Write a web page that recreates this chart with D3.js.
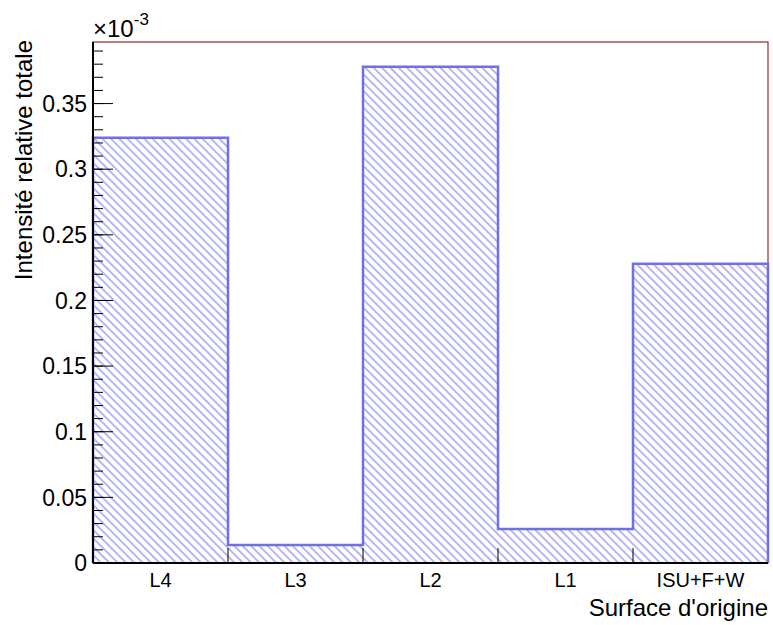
<!DOCTYPE html>
<html><head><meta charset="utf-8">
<script src="https://cdn.jsdelivr.net/npm/d3@7"></script>
<style>body{margin:0;background:#fff}svg{display:block}text{font-family:"Liberation Sans",Arial,sans-serif}</style>
</head><body>
<script>
const categories = ["L4","L3","L2","L1","ISU+F+W"];
const values = [0.324, 0.0137, 0.378, 0.0259, 0.228]; // ×10^-3
const yTicks = [0,0.05,0.1,0.15,0.2,0.25,0.3,0.35];
const yMax = 0.3969;

const W=773,H=625;
const m={l:93,r:5,t:42,b:62};
const svg=d3.select("body").append("svg").attr("width",W).attr("height",H);
const x=d3.scaleBand().domain(categories).range([m.l,W-m.r]).padding(0);
const y=d3.scaleLinear().domain([0,yMax]).range([H-m.b,m.t]);

const defs=svg.append("defs");
const pat=defs.append("pattern").attr("id","hatch").attr("patternUnits","userSpaceOnUse")
 .attr("width",10).attr("height",5.9).attr("patternTransform","rotate(45)");
pat.append("line").attr("x1",0).attr("x2",10).attr("y1",2).attr("y2",2)
 .attr("stroke","#5c5ce8").attr("stroke-width",0.9);

// frame
svg.append("rect").attr("x",m.l).attr("y",m.t).attr("width",W-m.r-m.l).attr("height",H-m.b-m.t)
 .attr("fill","none").attr("stroke","#7a0000").attr("stroke-width",1);

// histogram fill
svg.append("g").selectAll("rect").data(categories).join("rect")
 .attr("x",d=>x(d)).attr("width",x.bandwidth())
 .attr("y",(d,i)=>y(values[i])).attr("height",(d,i)=>y(0)-y(values[i]))
 .attr("fill","url(#hatch)");

// outline as step
const pts=[];
categories.forEach((c,i)=>{pts.push([x(c),y(values[i])]);pts.push([x(c)+x.bandwidth(),y(values[i])]);});
const path=[[x(categories[0]),y(0)],...pts,[x(categories[categories.length-1])+x.bandwidth(),y(0)]];
svg.append("path").attr("d",d3.line()(path)).attr("fill","none")
 .attr("stroke","#6f6fe8").attr("stroke-width",2.5);

// y axis
const yMinor=d3.range(0,0.3951,0.01);
const ga=svg.append("g");
ga.selectAll("line.mi").data(yMinor).join("line")
 .attr("x1",m.l).attr("x2",m.l+10).attr("y1",d=>y(d)).attr("y2",d=>y(d)).attr("stroke","#000");
ga.selectAll("line.ma").data(yTicks).join("line")
 .attr("x1",m.l).attr("x2",m.l+20).attr("y1",d=>y(d)).attr("y2",d=>y(d)).attr("stroke","#000");
ga.selectAll("text").data(yTicks).join("text")
 .attr("x",m.l-6).attr("y",d=>y(d)).attr("dy","0.36em").attr("text-anchor","end")
 .attr("font-size",23).text(d=>d3.format("~g")(d));
svg.append("line").attr("x1",m.l).attr("x2",m.l).attr("y1",m.t).attr("y2",H-m.b).attr("stroke","#000").attr("stroke-width",2);

// x axis
svg.append("line").attr("x1",m.l).attr("x2",W-m.r).attr("y1",H-m.b).attr("y2",H-m.b).attr("stroke","#000").attr("stroke-width",2);
const edges=categories.slice(1).map(c=>x(c));
svg.append("g").selectAll("line").data(edges).join("line")
 .attr("x1",d=>d).attr("x2",d=>d).attr("y1",H-m.b).attr("y2",H-m.b-15).attr("stroke","#000");
svg.append("g").selectAll("text").data(categories).join("text")
 .attr("x",d=>x(d)+x.bandwidth()/2).attr("y",587).attr("text-anchor","middle")
 .attr("font-size",20).text(d=>d);

// titles
svg.append("text").attr("x",W-m.r).attr("y",616).attr("text-anchor","end").attr("font-size",24).text("Surface d'origine");
svg.append("text").attr("transform","translate(32,40) rotate(-90)").attr("text-anchor","end").attr("font-size",24).text("Intensité relative totale");
const ex=svg.append("text").attr("x",m.l).attr("y",37).attr("font-size",24);
ex.append("tspan").text("×10");
ex.append("tspan").attr("dy",-12).attr("font-size",17).text("-3");
</script>
</body></html>
